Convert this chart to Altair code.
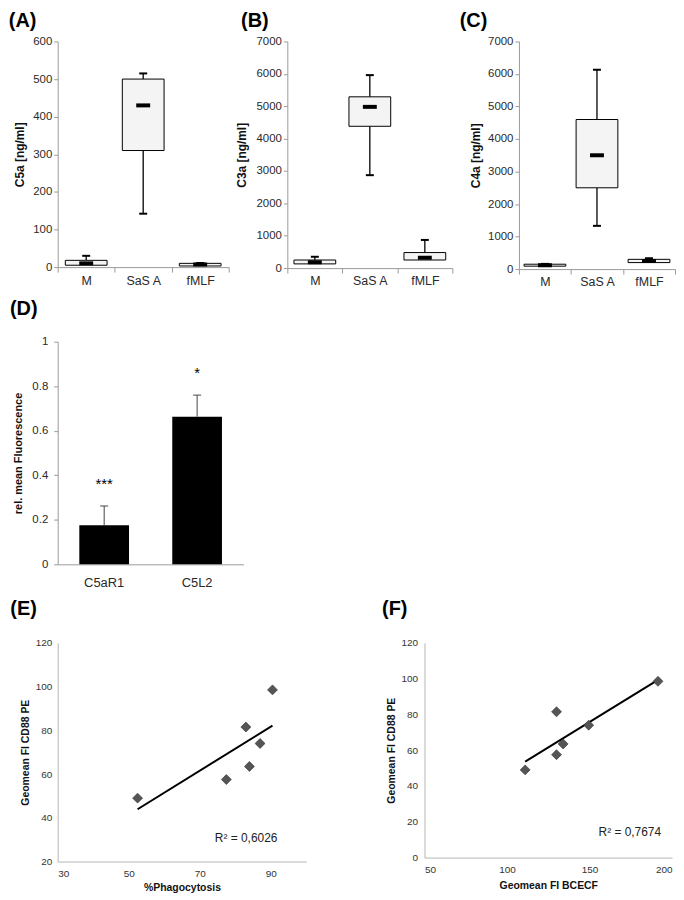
import altair as alt
import pandas as pd

FONT = "Liberation Sans"

# ---------------- data ----------------
box_cats = ["M", "SaS A", "fMLF"]

# (A) C5a [ng/ml]
c5a_lo = [5, 142, 3]
c5a_q1 = [5, 310, 3]
c5a_med = [10, 430, 7]
c5a_q3 = [18, 500, 10]
c5a_hi = [30, 515, 11]

# (B) C3a [ng/ml]
c3a_lo = [130, 2870, 250]
c3a_q1 = [130, 4380, 250]
c3a_med = [180, 4980, 320]
c3a_q3 = [250, 5290, 480]
c3a_hi = [350, 5960, 870]

# (C) C4a [ng/ml]
c4a_lo = [90, 1330, 200]
c4a_q1 = [90, 2500, 200]
c4a_med = [120, 3500, 250]
c4a_q3 = [150, 4600, 300]
c4a_hi = [160, 6130, 330]

# (D) rel. mean Fluorescence
d_cats = ["C5aR1", "C5L2"]
d_mean = [0.175, 0.663]
d_err_top = [0.262, 0.760]
d_sig = ["***", "*"]

# (E) %Phagocytosis vs Geomean FI CD88 PE
e_x = [52.5, 77.5, 83, 84, 87, 90.5]
e_y = [49, 57.5, 81.5, 63.5, 74, 98.5]
e_r2 = "R\u00b2 = 0,6026"

# (F) Geomean FI BCECF vs Geomean FI CD88 PE
f_x = [111, 130, 130, 134, 149.5, 191.5]
f_y = [49, 81.5, 57.5, 63.5, 74, 98.5]
f_r2 = "R\u00b2 = 0,7674"

AX_COL = "#9a9a9a"
LAB_COL = "#2a2a2a"


def panel_title(letter, dx, offset):
    return alt.TitleParams(letter, anchor="start", frame="bounds", dx=dx, offset=offset,
                           fontSize=20, fontWeight="bold", color="black", font=FONT)


def box_panel(letter, ytitle, lo, q1, med, q3, hi, ymax, step, w, h, tdx, toff, tpad):
    df = pd.DataFrame({"cat": box_cats, "lo": lo, "q1": q1, "med": med, "q3": q3, "hi": hi})
    x = alt.X("cat:N", sort=box_cats, title=None,
              scale=alt.Scale(paddingInner=0, paddingOuter=0),
              axis=alt.Axis(labelAngle=0, tickBand="extent", tickSize=5, labelFontSize=12.5,
                            labelPadding=2, labelColor=LAB_COL))
    ys = alt.Scale(domain=[0, ymax], nice=False, zero=True)
    ax = alt.Axis(values=list(range(0, ymax + 1, step)), format="d", tickSize=4,
                  labelPadding=2, labelFontSize=11.5, titleFontSize=12, titlePadding=tpad,
                  labelColor=LAB_COL)

    def Y(f):
        return alt.Y(f"{f}:Q", scale=ys, axis=ax, title=ytitle)

    base = alt.Chart(df).encode(x=x)
    wl = base.mark_rule(color="black", strokeWidth=1.3).encode(y=Y("lo"), y2="q1:Q")
    wh = base.mark_rule(color="black", strokeWidth=1.3).encode(y=Y("q3"), y2="hi:Q")
    box = base.mark_bar(size=42, fill="#f4f4f4", stroke="black", strokeWidth=1).encode(
        y=Y("q1"), y2="q3:Q")
    md = base.mark_tick(size=14, thickness=4, color="black", opacity=1).encode(y=Y("med"))
    ch = base.transform_filter("datum.hi > datum.q3").mark_tick(
        size=8, thickness=2, color="black", opacity=1).encode(y=Y("hi"))
    cl = base.transform_filter("datum.lo < datum.q1").mark_tick(
        size=8, thickness=2, color="black", opacity=1).encode(y=Y("lo"))
    return alt.layer(wl, wh, box, md, ch, cl).properties(
        width=w, height=h, title=panel_title(letter, tdx, toff))


A = box_panel("(A)", "C5a [ng/ml]", c5a_lo, c5a_q1, c5a_med, c5a_q3, c5a_hi,
              600, 100, 172, 227, -5, 5, 6)
B = box_panel("(B)", "C3a [ng/ml]", c3a_lo, c3a_q1, c3a_med, c3a_q3, c3a_hi,
              7000, 1000, 166, 228, 5, 5, 7)
C = box_panel("(C)", "C4a [ng/ml]", c4a_lo, c4a_q1, c4a_med, c4a_q3, c4a_hi,
              7000, 1000, 157, 229, -10, 5, 5)

# ---- (D) ----
ddf = pd.DataFrame({"cat": d_cats, "mean": d_mean, "top": d_err_top, "sig": d_sig})
dx_enc = alt.X("cat:N", sort=d_cats, title=None,
               scale=alt.Scale(paddingInner=0, paddingOuter=0),
               axis=alt.Axis(labelAngle=0, ticks=False, labelFontSize=13, labelPadding=12,
                             labelColor=LAB_COL))
d_ys = alt.Scale(domain=[0, 1], nice=False)
d_ax = alt.Axis(values=[0, 0.2, 0.4, 0.6, 0.8, 1], format="~g", tickSize=4, labelPadding=6,
                labelFontSize=11.5, titleFontSize=11, titlePadding=8, labelColor=LAB_COL)


def DY(f):
    return alt.Y(f"{f}:Q", scale=d_ys, axis=d_ax, title="rel. mean Fluorescence")


dbase = alt.Chart(ddf).encode(x=dx_enc)
d_bar = dbase.mark_bar(size=50, color="black").encode(y=DY("mean"))
d_err = dbase.mark_rule(color="#444444", strokeWidth=1).encode(y=DY("mean"), y2="top:Q")
d_cap = dbase.mark_tick(size=8, thickness=1, color="#444444", opacity=1).encode(y=DY("top"))
d_txt = dbase.mark_text(fontSize=15, baseline="alphabetic", dy=-17, color="black").encode(
    y=DY("top"), text="sig:N")
D = alt.layer(d_bar, d_err, d_cap, d_txt).properties(
    width=187, height=224, title=panel_title("(D)", -3, 17))


# ---- (E), (F) ----
def scatter_panel(letter, xs, ys_, xdom, xvals, ydom, yvals, xtitle, r2, w, h,
                  tdx, toff, ylpad, ytpad, xtpad, r2x, r2y):
    df = pd.DataFrame({"x": xs, "y": ys_})
    xsc = alt.Scale(domain=xdom, nice=False, zero=False)
    ysc = alt.Scale(domain=ydom, nice=False, zero=False)
    xax = alt.Axis(values=xvals, ticks=False, labelPadding=7, labelFontSize=10,
                   titleFontSize=10.5, titlePadding=xtpad, labelColor="#333333",
                   domainColor="#b5b5b5")
    yax = alt.Axis(values=yvals, ticks=False, labelPadding=ylpad, labelFontSize=10,
                   titleFontSize=10.5, titlePadding=ytpad, labelColor="#333333",
                   domainColor="#b5b5b5")
    X = alt.X("x:Q", scale=xsc, axis=xax, title=xtitle)
    Yq = alt.Y("y:Q", scale=ysc, axis=yax, title="Geomean FI CD88 PE")
    base = alt.Chart(df)
    line = base.transform_regression("x", "y").mark_line(color="black", strokeWidth=2).encode(
        x=X, y=Yq)
    pts = base.mark_point(shape="diamond", filled=True, size=100, fill="#555555",
                          stroke="#2a2a2a", strokeWidth=0.6, opacity=1).encode(x=X, y=Yq)
    txt = alt.Chart(pd.DataFrame({"t": [r2]})).mark_text(
        align="right", baseline="middle", fontSize=12, color="#222222").encode(
        x=alt.value(r2x), y=alt.value(r2y), text="t:N")
    return alt.layer(line, pts, txt).properties(
        width=w, height=h, title=panel_title(letter, tdx, toff))


E = scatter_panel("(E)", e_x, e_y, [30, 100], [30, 50, 70, 90], [20, 120],
                  [20, 40, 60, 80, 100, 120], "%Phagocytosis", e_r2, 250, 220,
                  -10, 19, 6, 5, 4, 221, 196)
F = scatter_panel("(F)", f_x, f_y, [50, 200], [50, 100, 150, 200], [0, 120],
                  [0, 20, 40, 60, 80, 100, 120], "Geomean FI BCECF", f_r2, 249, 216,
                  -4, 19, 7, 5, 6, 238, 190)

row1 = alt.hconcat(A, B, C, spacing=6)
row3 = alt.hconcat(E, F, spacing=76)

chart = alt.vconcat(row1, D, row3, spacing=10).properties(padding=0).configure(
    font=FONT
).configure_view(stroke=None).configure_axis(
    grid=False, domainColor=AX_COL, tickColor=AX_COL, titleFontWeight="bold",
    titleColor="#111111", labelFont=FONT, titleFont=FONT
)

chart.save("out.html", embed_options={"renderer": "svg", "actions": False})
